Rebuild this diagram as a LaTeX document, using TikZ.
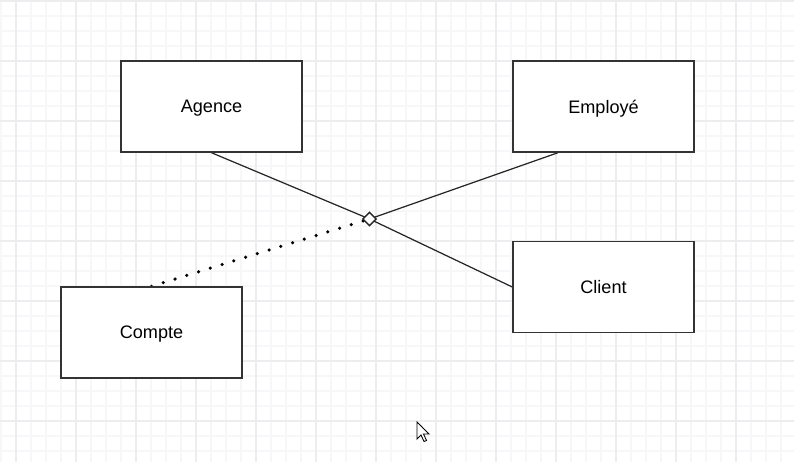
\documentclass[tikz,border=0pt]{standalone}
\usepackage{fontspec}
\setmainfont{Liberation Sans}
\usetikzlibrary{shapes.geometric,calc,backgrounds}
\definecolor{grillefine}{HTML}{F7F7F9}
\definecolor{grilleforte}{HTML}{EDEDEF}
\tikzset{
  classe/.style={draw=black!80, line width=0.85pt, fill=white, minimum width=3.62cm, minimum height=1.82cm, inner sep=0pt, text depth=0ex, font=\fontsize{10.3}{12}\selectfont},
  lien/.style={draw=black!85, line width=0.7pt},
  pointille/.style={draw=black, line width=2pt, dash pattern=on 0pt off 7pt, line cap=round},
  losange/.style={diamond, draw=black!85, line width=0.8pt, fill=white, minimum size=0.28cm, inner sep=0pt},
}
\begin{document}
\begin{tikzpicture}[x=0.02cm, y=-0.02cm]
    \useasboundingbox (0,0) rectangle (794,462);

    % Classes
    \node[classe] (agence) at (211.5,106.5) {Agence};
    \node[classe] (employe) at (603.5,106.5) {Employé};
    \node[classe] (client) at (603.5,287) {Client};
    \node[classe] (compte) at (151.5,332.5) {Compte};

    % Association n-aire
    \node[losange] (assoc) at (369.5,219) {};

    \begin{pgfonlayer}{background}
        % Grille
        \fill[white] (0,0) rectangle (794,462);
        \foreach \x in {1,16,...,794} \draw[grillefine, line width=0.6pt] (\x,0) -- (\x,462);
        \foreach \y in {1,16,...,462} \draw[grillefine, line width=0.6pt] (0,\y) -- (794,\y);
        \foreach \x in {16,76,...,794} \draw[grilleforte, line width=0.7pt] (\x,0) -- (\x,462);
        \foreach \y in {1,61,...,462} \draw[grilleforte, line width=0.7pt] (0,\y) -- (794,\y);

        % Liens vers le losange
        \draw[lien] (agence.south) -- (assoc.center);
        \draw[lien] (assoc.center) -- (client.west);
        \draw[lien] ($(employe.south west)!0.25!(employe.south east)$) -- (assoc.center);
        \draw[pointille] (compte.north) -- (assoc.center);
    \end{pgfonlayer}

    % Curseur
    \draw[black, line width=0.5pt, fill=white, shift={(417,422)}]
        (0,0) -- (0,17) -- (4,13) -- (7,19.5) -- (9.5,18.5) -- (6.5,12) -- (12,12) -- cycle;
\end{tikzpicture}
\end{document}
